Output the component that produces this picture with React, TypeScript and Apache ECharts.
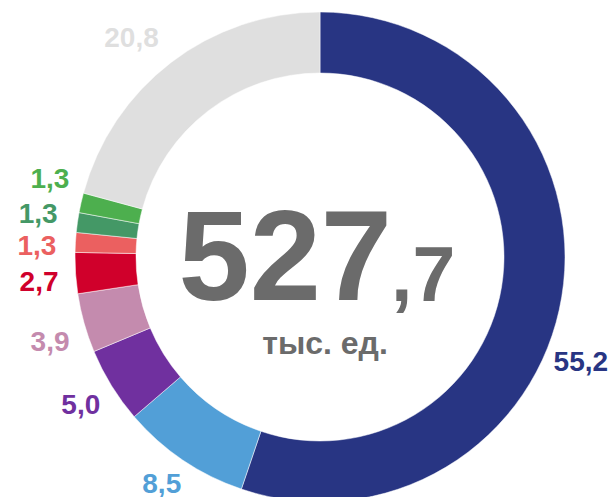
import React, { useEffect, useRef } from "react";
import * as echarts from "echarts";

const categories = ["A", "B", "C", "D", "E", "F", "G", "H", "I"];
const values = [55.2, 8.5, 5.0, 3.9, 2.7, 1.3, 1.3, 1.3, 20.8];
const colors = [
  "#283583",
  "#529FD7",
  "#70309F",
  "#C48BAE",
  "#D0002B",
  "#EB6060",
  "#449866",
  "#4DAF4E",
  "#DFDFDF",
];
const totalMain = "527";
const totalDecimal = ",7";
const unitLabel = "тыс. ед.";

// label fine-tuning offsets (dx, dy) per slice
const labelOffsets: [number, number][] = [
  [-25, 63],
  [10, 13],
  [4, 13],
  [2, 15],
  [0, 8],
  [-2, 4],
  [-3, -7],
  [5, -22],
  [0, -15],
];

const FONT = "'Liberation Sans', Arial, sans-serif";

export default function App() {
  const ref = useRef<HTMLDivElement>(null);
  useEffect(() => {
    if (!ref.current) return;
    const chart = echarts.init(ref.current, undefined, { renderer: "svg" });
    chart.setOption({
      animation: false,
      backgroundColor: "#ffffff",
      series: [
        {
          type: "pie",
          center: [320, 257],
          radius: [184, 245],
          startAngle: 90,
          clockwise: true,
          avoidLabelOverlap: false,
          itemStyle: { borderColor: "#ffffff", borderWidth: 0.5 },
          label: {
            show: true,
            position: "outside",
            fontFamily: FONT,
            fontWeight: "bold",
            fontSize: 28,
            formatter: (p: any) => String(p.value.toFixed(1)).replace(".", ","),
          },
          labelLine: { show: false, length: 12, length2: 0 },
          labelLayout: (p: any) => {
            const o = labelOffsets[p.dataIndex] || [0, 0];
            return { dx: o[0], dy: o[1] };
          },
          emphasis: { disabled: true },
          data: categories.map((c, i) => ({
            name: c,
            value: values[i],
            itemStyle: { color: colors[i] },
            label: { color: colors[i] },
          })),
        },
      ],
      graphic: [
        {
          type: "text",
          x: 392,
          y: 255,
          style: {
            text: totalMain,
            fontFamily: FONT,
            fontWeight: "bold",
            fontSize: 128,
            fill: "#6B6B6B",
            align: "right",
            verticalAlign: "middle",
          },
        },
        {
          type: "text",
          x: 391,
          y: 274,
          style: {
            text: totalDecimal,
            fontFamily: FONT,
            fontWeight: "bold",
            fontSize: 77,
            fill: "#6B6B6B",
            align: "left",
            verticalAlign: "middle",
          },
        },
        {
          type: "text",
          x: 325,
          y: 343,
          style: {
            text: unitLabel,
            fontFamily: FONT,
            fontWeight: "bold",
            fontSize: 32,
            fill: "#6B6B6B",
            align: "center",
            verticalAlign: "middle",
          },
        },
      ],
    });
    return () => chart.dispose();
  }, []);
  return (
    <div
      ref={ref}
      style={{ position: "fixed", left: 0, top: 0, width: 610, height: 497 }}
    />
  );
}
